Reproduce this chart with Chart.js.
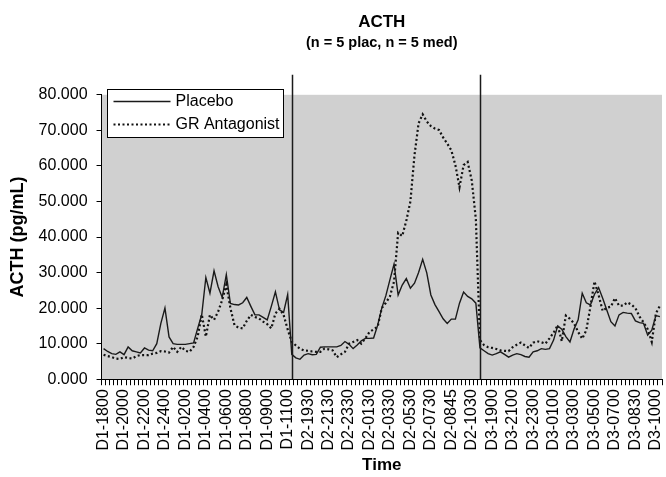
<!DOCTYPE html>
<html>
<head>
<meta charset="utf-8">
<title>ACTH</title>
<script src="https://cdn.jsdelivr.net/npm/chart.js@4.4.1/dist/chart.umd.min.js"></script>
<style>
  body { margin: 0; background: #fff; }
</style>
</head>
<body>
<canvas id="acthChart" width="666" height="477"></canvas>
<script>
// tick labels, one every 5 samples
const tickLabels = [
  "D1-1800", "D1-2000", "D1-2200", "D1-2400", "D1-0200", "D1-0400", "D1-0600",
  "D1-0800", "D1-0900", "D1-1100", "D2-1930", "D2-2130", "D2-2330", "D2-0130",
  "D2-0330", "D2-0530", "D2-0730", "D2-0845", "D2-1030", "D3-1900", "D3-2100",
  "D3-2300", "D3-0100", "D3-0300", "D3-0500", "D3-0700", "D3-0830", "D3-1000"
];
const labelEvery = 5;

// ACTH (pg/mL), one array per day
const placeboD1 = [8.6, 7.8, 7.2, 7.0, 7.7, 6.9, 9.1, 8.0, 7.7, 7.4, 8.8, 8.2, 8.0, 10.0, 15.7, 20.0,
  11.9, 10.0, 9.8, 9.8, 9.8, 10.0, 10.2, 14.3, 18.2, 28.6, 24.2, 30.5, 26.0, 23.0, 29.4, 21.3,
  21.0, 20.9, 21.5, 23.0, 20.5, 18.1, 18.1, 17.4, 16.7, 20.5, 24.6, 19.5, 18.8, 23.8];
const placeboD2 = [7.0, 6.0, 5.6, 6.8, 7.2, 6.9, 7.0, 9.0, 9.1, 9.1, 9.1, 9.1, 9.5, 10.6, 9.8, 8.6,
  9.6, 10.8, 11.5, 11.5, 11.6, 15.2, 20.0, 23.5, 28.0, 32.4, 23.7, 26.5, 28.3, 25.6, 27.0, 30.0,
  33.7, 29.9, 23.7, 21.0, 19.0, 17.0, 15.7, 16.9, 16.9, 21.4, 24.5, 23.3, 22.6, 21.4];
const placeboD3 = [8.8, 8.0, 7.2, 6.8, 7.2, 7.7, 7.0, 6.2, 6.8, 7.2, 6.9, 6.4, 6.2, 7.7, 8.0, 8.6,
  8.4, 8.6, 11.0, 15.0, 14.1, 12.0, 10.5, 14.1, 16.7, 24.2, 21.5, 20.9, 23.9, 25.8, 22.8, 19.5,
  16.2, 15.0, 18.1, 18.8, 18.6, 18.5, 16.4, 15.9, 15.7, 12.4, 13.8, 17.9, 17.6];

const grD1 = [6.9, 6.5, 6.2, 5.8, 5.7, 6.2, 6.0, 5.8, 6.5, 6.8, 6.8, 6.8, 7.2, 7.4, 7.9, 7.8,
  7.5, 9.1, 7.7, 9.1, 8.0, 7.7, 9.1, 12.0, 18.2, 12.0, 18.1, 16.7, 19.0, 22.3, 26.6, 20.0,
  15.2, 14.5, 14.3, 16.4, 18.1, 17.5, 17.1, 16.2, 15.5, 14.3, 18.5, 19.8, 18.1, 14.0];
const grD2 = [10.5, 9.5, 8.6, 8.1, 8.0, 7.8, 7.7, 7.7, 8.6, 8.4, 8.1, 6.2, 7.0, 7.7, 10.0, 10.5,
  11.0, 10.0, 11.5, 13.3, 14.0, 14.8, 20.0, 21.5, 23.3, 27.5, 41.2, 40.3, 44.6, 50.0, 63.0, 72.0,
  74.5, 72.5, 71.2, 70.5, 70.1, 68.0, 66.3, 64.4, 60.2, 54.0, 60.2, 61.1, 55.9, 45.0];
const grD3 = [11.0, 9.6, 9.0, 8.8, 8.5, 8.1, 8.0, 7.9, 9.0, 9.7, 10.3, 9.5, 8.8, 10.3, 10.7, 10.4,
  10.0, 11.5, 13.1, 15.2, 10.7, 17.9, 17.0, 15.7, 13.3, 11.4, 13.8, 20.4, 27.5, 23.7, 19.2, 20.1,
  20.4, 22.8, 20.7, 20.7, 21.6, 21.0, 20.0, 17.6, 16.0, 14.1, 10.5, 18.5, 20.7];

const placebo = placeboD1.concat(placeboD2, placeboD3);
const grAntagonist = grD1.concat(grD2, grD3);

// one category per sample, only every 5th one carries a label
const labels = placebo.map((v, i) => (i % labelEvery === 0 ? tickLabels[i / labelEvery] || "" : ""));
const dayStarts = [placeboD1.length, placeboD1.length + placeboD2.length];

Chart.defaults.font.family = "'Liberation Sans', Arial, sans-serif";
Chart.defaults.color = "#000";

// grey plot area
const plotBg = {
  id: "plotBg",
  beforeDraw(chart) {
    const { ctx, chartArea: a } = chart;
    ctx.save();
    ctx.fillStyle = "#d0d0d0";
    ctx.fillRect(a.left, a.top, a.right - a.left, a.bottom - a.top);
    ctx.restore();
  }
};

// vertical lines between the days
const dayLines = {
  id: "dayLines",
  afterDatasetsDraw(chart) {
    const { ctx, chartArea: a, scales } = chart;
    ctx.save();
    ctx.strokeStyle = "#1a1a1a";
    ctx.lineWidth = 1.5;
    dayStarts.forEach((idx) => {
      const x = Math.round(scales.x.getPixelForValue(idx)) + 0.5;
      ctx.beginPath();
      ctx.moveTo(x, a.top - 20);
      ctx.lineTo(x, a.bottom);
      ctx.stroke();
    });
    ctx.restore();
  }
};

// boxed legend sitting over the top left of the plot
const boxLegend = {
  id: "boxLegend",
  afterDraw(chart) {
    const { ctx } = chart;
    const box = { x: 107.5, y: 89.5, w: 176, h: 48 };
    ctx.save();
    ctx.fillStyle = "#fff";
    ctx.fillRect(box.x, box.y, box.w, box.h);
    ctx.strokeStyle = "#000";
    ctx.lineWidth = 1;
    ctx.strokeRect(box.x, box.y, box.w, box.h);
    ctx.font = "16px 'Liberation Sans', Arial, sans-serif";
    ctx.textBaseline = "middle";
    chart.data.datasets.forEach((ds, i) => {
      const y = box.y + 12 + i * 23;
      ctx.strokeStyle = ds.borderColor;
      ctx.lineWidth = ds.borderWidth;
      ctx.setLineDash(ds.borderDash || []);
      ctx.beginPath();
      ctx.moveTo(box.x + 6, y);
      ctx.lineTo(box.x + 63, y);
      ctx.stroke();
      ctx.setLineDash([]);
      ctx.fillStyle = "#000";
      ctx.fillText(ds.label, box.x + 68, y);
    });
    ctx.restore();
  }
};

const config = {
  type: "line",
  data: {
    labels,
    datasets: [
      {
        label: "Placebo",
        data: placebo,
        borderColor: "#1a1a1a",
        borderWidth: 1.4,
        pointRadius: 0,
        tension: 0
      },
      {
        label: "GR Antagonist",
        data: grAntagonist,
        borderColor: "#111",
        borderWidth: 2.2,
        borderDash: [2, 2.5],
        pointRadius: 0,
        tension: 0
      }
    ]
  },
  options: {
    responsive: false,
    animation: false,
    devicePixelRatio: 1,
    layout: { padding: { left: 4, right: 4, top: 0, bottom: 1 } },
    plugins: {
      legend: { display: false },
      tooltip: { enabled: false },
      title: {
        display: true,
        text: "ACTH",
        fullSize: false,
        color: "#000",
        font: { size: 17, weight: "bold" },
        padding: { top: 12, bottom: 0 }
      },
      subtitle: {
        display: true,
        text: "(n = 5 plac, n = 5 med)",
        fullSize: false,
        color: "#000",
        font: { size: 14.5, weight: "bold" },
        padding: { top: 2, bottom: 43 }
      }
    },
    scales: {
      x: {
        offset: true,
        // rotated labels would otherwise push the plot in from the right
        afterFit: function (scale) {
          scale.paddingLeft = 0;
          scale.paddingRight = 0;
        },
        grid: {
          offset: true,
          drawOnChartArea: false,
          color: "#000",
          tickLength: 6
        },
        border: { color: "#000", width: 1 },
        ticks: {
          autoSkip: false,
          minRotation: 90,
          maxRotation: 90,
          padding: 4,
          font: { size: 16 }
        },
        title: {
          display: true,
          text: "Time",
          font: { size: 17, weight: "bold" },
          padding: { top: 1, bottom: 0 }
        }
      },
      y: {
        min: 0,
        max: 80,
        grid: {
          drawOnChartArea: false,
          color: "#000",
          tickLength: 5
        },
        border: { color: "#000", width: 1 },
        ticks: {
          stepSize: 10,
          padding: 9,
          font: { size: 16 },
          callback: function (value) {
            return value.toFixed(3);
          }
        },
        title: {
          display: true,
          text: "ACTH (pg/mL)",
          font: { size: 18, weight: "bold" },
          padding: { top: 3, bottom: 1 }
        }
      }
    }
  },
  plugins: [plotBg, dayLines, boxLegend]
};

const acthChart = new Chart(document.getElementById("acthChart"), config);
</script>
</body>
</html>
